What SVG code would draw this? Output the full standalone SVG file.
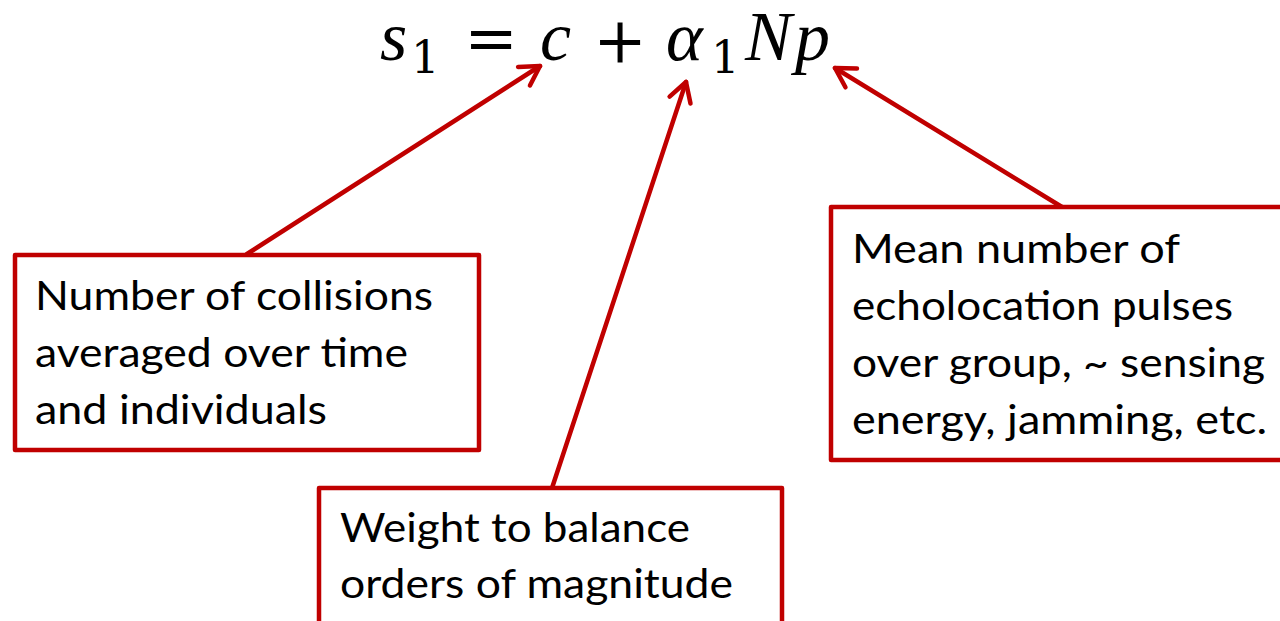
<svg xmlns="http://www.w3.org/2000/svg" width="1280" height="621" viewBox="0 0 1280 621">
<style>
.box{fill:#fff;stroke:#C00000;stroke-width:4.5;stroke-linejoin:round}
.lbl{font-family:Lato,"Liberation Sans",sans-serif;font-size:40px;fill:#000}
.m{font-family:"Liberation Serif",serif;font-size:70px;fill:#000}
.mi{font-style:italic}
.sub{font-family:"DejaVu Serif",serif;font-size:45px;fill:#000}
.op{font-family:"DejaVu Serif",serif;font-size:64px;fill:#000;text-anchor:middle}
.con{stroke:#C00000;stroke-width:4.5;fill:none;stroke-linecap:round}
</style>
<defs>
<marker id="ah" markerUnits="userSpaceOnUse" viewBox="-24 -16 30 32" markerWidth="30" markerHeight="32" refX="0" refY="0" orient="auto" overflow="visible">
<path d="M -19 -11 L 0 0 L -19 11" fill="none" stroke="#C00000" stroke-width="4.5" stroke-linecap="round" stroke-linejoin="round"/>
</marker>
</defs>
<rect width="1280" height="621" fill="#fff"/>
<g id="equation">
<text class="m mi" x="380" y="60">s</text>
<text class="sub" x="411" y="73">1</text>
<text class="op" x="491" y="60">=</text>
<text class="m mi" x="540" y="60">c</text>
<text class="op" x="620" y="62">+</text>
<text class="m mi" x="666" y="60">α</text>
<text class="sub" x="711" y="73">1</text>
<text class="m mi" x="745" y="60">N</text>
<text class="m mi" x="795" y="60">p</text>
</g>
<g id="connectors">
<line class="con" x1="247" y1="254" x2="540" y2="66" marker-end="url(#ah)"/>
<line class="con" x1="552" y1="488" x2="686" y2="82" marker-end="url(#ah)"/>
<line class="con" x1="1062" y1="207" x2="835" y2="68" marker-end="url(#ah)"/>
</g>
<g id="box-collisions">
<rect class="box" x="15" y="255" width="464" height="195"/>
<text class="lbl" x="35" y="310" textLength="398" lengthAdjust="spacingAndGlyphs">Number of collisions</text>
<text class="lbl" x="35" y="367" textLength="373" lengthAdjust="spacingAndGlyphs">averaged over time</text>
<text class="lbl" x="35" y="424" textLength="292" lengthAdjust="spacingAndGlyphs">and individuals</text>
</g>
<g id="box-pulses">
<rect class="box" x="831" y="207" width="470" height="253"/>
<text class="lbl" x="852" y="263" textLength="328" lengthAdjust="spacingAndGlyphs">Mean number of</text>
<text class="lbl" x="852" y="320" textLength="381" lengthAdjust="spacingAndGlyphs">echolocation pulses</text>
<text class="lbl" x="852" y="377" textLength="413" lengthAdjust="spacingAndGlyphs">over group, ~ sensing</text>
<text class="lbl" x="852" y="434" textLength="415" lengthAdjust="spacingAndGlyphs">energy, jamming, etc.</text>
</g>
<g id="box-weight">
<rect class="box" x="319" y="488" width="463" height="200"/>
<text class="lbl" x="340" y="542" textLength="350" lengthAdjust="spacingAndGlyphs">Weight to balance</text>
<text class="lbl" x="340" y="598" textLength="393" lengthAdjust="spacingAndGlyphs">orders of magnitude</text>
</g>
</svg>
